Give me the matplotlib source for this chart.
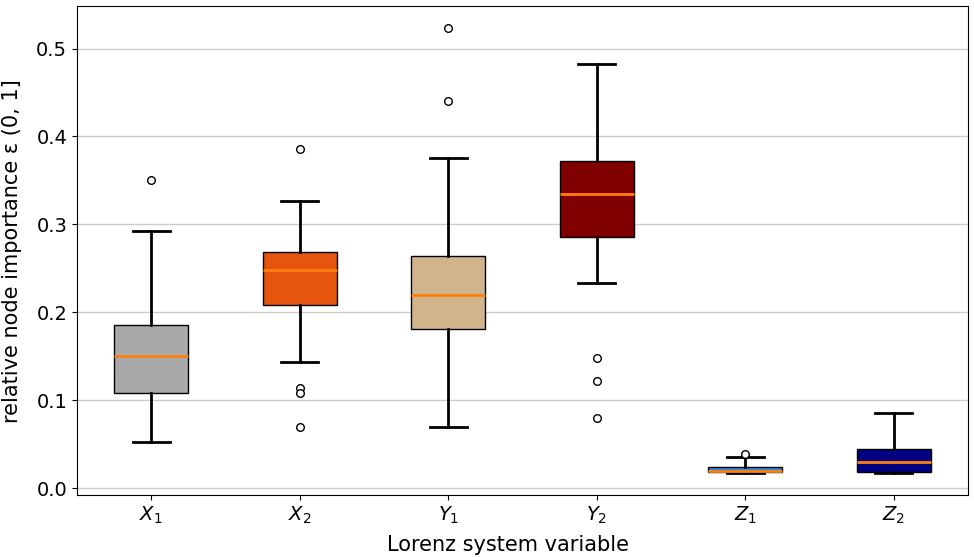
import matplotlib
matplotlib.use("Agg")
import matplotlib.pyplot as plt

labels = ["$X_1$", "$X_2$", "$Y_1$", "$Y_2$", "$Z_1$", "$Z_2$"]
whislo = [0.052, 0.143, 0.069, 0.233, 0.0175, 0.0172]
q1 = [0.108, 0.208, 0.181, 0.286, 0.0188, 0.0180]
med = [0.150, 0.248, 0.220, 0.335, 0.0197, 0.0300]
q3 = [0.185, 0.268, 0.264, 0.372, 0.0245, 0.0450]
whishi = [0.293, 0.327, 0.376, 0.482, 0.0356, 0.0856]
fliers = [[0.350], [0.386, 0.114, 0.108, 0.069], [0.523, 0.440],
          [0.148, 0.122, 0.080], [0.0386], []]
colors = ["#a9a9a9", "#e6550d", "#d2b48c", "#800000", "#2a8fe6", "#000080"]

stats = []
for i in range(len(labels)):
    stats.append(dict(label=labels[i], whislo=whislo[i], q1=q1[i], med=med[i],
                      q3=q3[i], whishi=whishi[i], fliers=fliers[i]))

fig, ax = plt.subplots(figsize=(9.74, 5.57), dpi=100)
bp = ax.bxp(stats, patch_artist=True, widths=0.5,
            boxprops=dict(linewidth=1.0, edgecolor="black"),
            whiskerprops=dict(linewidth=2.0, color="black"),
            capprops=dict(linewidth=2.0, color="black"),
            medianprops=dict(linewidth=2.0, color="#ff7f0e"),
            flierprops=dict(marker="o", markersize=5.5, markerfacecolor="white",
                            markeredgecolor="black"))
for patch, c in zip(bp["boxes"], colors):
    patch.set_facecolor(c)

ax.yaxis.grid(True, color="#cccccc", linewidth=1.0)
ax.set_axisbelow(True)
ax.tick_params(axis="both", labelsize=14)
ax.set_ylabel("relative node importance ε (0, 1]", fontsize=15, labelpad=10)
ax.set_xlabel("Lorenz system variable", fontsize=15, labelpad=6)
ax.xaxis.label.set_x(0.484)
ax.set_yticks([0.0, 0.1, 0.2, 0.3, 0.4, 0.5])

fig.subplots_adjust(left=0.079, right=0.994, top=0.989, bottom=0.111)
fig.savefig("out.png", dpi=100)
